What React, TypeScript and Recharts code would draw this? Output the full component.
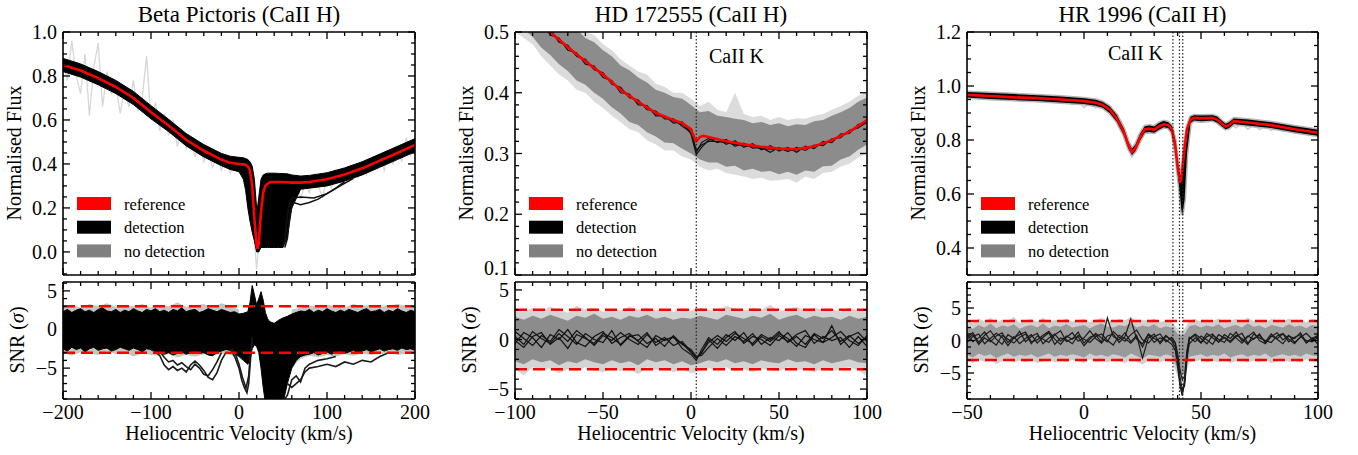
import React from 'react';
import { ComposedChart, Line, Area, XAxis, YAxis, ReferenceLine } from 'recharts';

const FONT = '"Liberation Serif", "Times New Roman", Times, serif';

// ================= Panel 1: Beta Pictoris =================
const p1RefVel = [-200,-180,-160,-140,-120,-100,-80,-60,-40,-20,-10,0,5,7.5,10,12.5,15,17.5,20,21,22.5,25,27.5,30,32.5,35,40,45,50,55,60,70,80,100,120,140,160,180,200];
const p1Ref = [0.850,0.825,0.79,0.75,0.70,0.635,0.575,0.51,0.46,0.42,0.405,0.40,0.398,0.395,0.39,0.37,0.30,0.15,0.03,0.015,0.04,0.18,0.27,0.30,0.31,0.317,0.318,0.318,0.318,0.317,0.315,0.315,0.318,0.33,0.352,0.38,0.415,0.45,0.487];
const p1DetHi = [0.88,0.855,0.82,0.78,0.73,0.665,0.603,0.538,0.488,0.448,0.435,0.43,0.428,0.425,0.42,0.41,0.39,0.33,0.2,0.2,0.25,0.33,0.35,0.355,0.358,0.358,0.358,0.357,0.356,0.355,0.35,0.345,0.348,0.36,0.382,0.41,0.445,0.48,0.515];
const p1DetLo = [0.82,0.795,0.76,0.72,0.67,0.605,0.547,0.482,0.432,0.392,0.375,0.365,0.33,0.28,0.2,0.14,0.09,0.05,0.0,0.0,0.0,0.02,0.02,0.02,0.02,0.02,0.02,0.02,0.02,0.07,0.2,0.285,0.29,0.3,0.322,0.35,0.385,0.42,0.455];
const p1GrayVel = [-200,-195,-190,-185,-180,-175,-170,-165,-160,-155,-150,-145,-140,-135,-130,-125,-120,-115,-110,-105,-100,-95,-90,-85,-80,-75,-70,-65,-60,-55,-50,-45,-40,-35,-30,-25,-20,-15,-10,-5,0,5,10,15,20,25,30,35,40,45,50,55,60,65,70,75,80,85,90,95,100,105,110,115,120,125,130,135,140,145,150,155,160,165,170,175,180,185,190,195,200];
const p1Gray = [0.86,0.78,0.96,0.80,0.72,0.90,0.62,0.84,0.95,0.66,0.82,0.72,0.76,0.63,0.74,0.66,0.78,0.64,0.70,0.89,0.60,0.68,0.55,0.63,0.53,0.60,0.48,0.56,0.47,0.52,0.43,0.50,0.41,0.47,0.38,0.45,0.37,0.43,0.36,0.41,0.36,0.40,0.33,0.20,-0.08,0.15,0.27,0.33,0.26,0.34,0.28,0.35,0.27,0.33,0.24,0.31,0.27,0.35,0.30,0.25,0.34,0.29,0.37,0.31,0.36,0.32,0.39,0.34,0.41,0.35,0.42,0.38,0.44,0.37,0.45,0.40,0.47,0.41,0.52,0.44,0.50];
const p1OutAVel = [52,55,58,62,70,80,90,100,110,120];
const p1OutA = [0.02,0.06,0.18,0.225,0.215,0.225,0.24,0.265,0.29,0.32];
const p1OutBVel = [48,52,56,60,70,85,100,115,130];
const p1OutB = [0.02,0.05,0.2,0.245,0.25,0.245,0.265,0.3,0.335];

const p1SnrVel = [-200,-195,-190,-185,-180,-175,-170,-165,-160,-155,-150,-145,-140,-135,-130,-125,-120,-115,-110,-105,-100,-95,-90,-85,-80,-75,-70,-65,-60,-55,-50,-45,-40,-35,-30,-25,-20,-15,-10,-5,0,5,10,12.5,15,17.5,20,22.5,25,27.5,30,32.5,35,40,45,50,55,60,65,70,75,80,85,90,95,100,105,110,115,120,125,130,135,140,145,150,155,160,165,170,175,180,185,190,195,200];
const p1SnrHi = [2.3,2.6,2.2,2.5,2.7,2.3,2.5,2.2,2.6,2.8,2.4,2.3,2.6,2.2,2.5,2.3,2.7,2.4,2.2,2.6,2.4,2.7,2.3,2.5,2.2,2.6,2.4,2.8,2.3,2.5,2.6,2.2,2.4,2.7,2.5,2.3,2.6,2.4,2.2,2.3,2.0,2.1,2.3,
  3.5,5.7,4.5,3.2,4.0,4.9,3.8,2.2,1.4,1.0,
  0.8,1.2,1.5,1.7,2.0,2.2,2.4,2.3,2.6,2.2,2.5,2.3,2.7,2.4,2.2,2.5,2.3,2.6,2.4,2.2,2.5,2.7,2.3,2.4,2.6,2.2,2.5,2.3,2.7,2.4,2.2,2.5,2.3];
const p1SnrLo = [-2.5,-2.8,-2.3,-2.6,-2.4,-2.9,-2.5,-2.3,-2.7,-2.5,-2.4,-2.8,-2.6,-2.3,-2.5,-2.7,-2.4,-2.6,-2.9,-2.5,-2.6,-2.8,-3.0,-3.2,-3.0,-3.3,-3.1,-2.9,-3.2,-3.0,-2.8,-3.1,-3.0,-3.3,-3.4,-3.0,-2.8,-2.6,-2.7,-3.0,-3.5,-4.0,-4.5,
  -4.0,-2.5,-2.0,-2.2,-3.0,-5.0,-7.5,-9.5,-9.5,-9.5,
  -9.5,-9.5,-9.5,-7.0,-5.0,-4.0,-3.5,-3.3,-3.2,-3.0,-3.3,-3.1,-2.9,-3.2,-3.0,-2.8,-3.1,-2.9,-2.7,-3.0,-2.8,-2.6,-2.9,-2.7,-2.5,-2.8,-2.6,-2.5,-2.7,-2.4,-2.6,-2.5,-2.7];
const p1GrayAVel = [-200,-190,-180,-170,-160,-150,-140,-130,-120,-110,-100,-90,-80,-70,-60,-50,-40,-30,-20,-10,0];
const p1GrayAHi = [2.9,3.2,2.8,3.3,3.0,3.4,2.9,3.1,3.0,3.3,2.8,3.2,3.0,3.5,2.9,3.1,3.3,2.8,3.4,3.0,2.6];
const p1GrayALo = [-3.0,-3.4,-2.9,-3.1,-3.3,-2.8,-3.2,-3.0,-3.5,-3.1,-3.3,-3.4,-3.2,-3.6,-3.3,-3.5,-3.2,-3.4,-3.1,-3.3,-3.6];
const p1GrayBVel = [60,70,80,90,100,110,120,130,140,150,160,170,180,190,200];
const p1GrayBHi = [2.6,2.8,3.1,2.9,3.2,3.0,2.8,3.3,3.0,3.2,2.9,3.1,3.3,3.0,2.9];
const p1GrayBLo = [-5.0,-3.8,-3.4,-3.6,-3.3,-3.5,-3.2,-3.4,-3.1,-3.3,-3.2,-3.0,-3.3,-3.1,-3.2];
const p1L1Vel = [-100,-95,-90,-85,-80,-75,-70,-65,-60,-55,-50,-45,-40,-35,-30,-25,-20,-15];
const p1L1 = [-2.6,-2.9,-3.4,-4.6,-5.2,-4.8,-5.3,-5.0,-5.5,-4.6,-4.1,-4.6,-5.3,-6.2,-6.5,-5.6,-4.0,-3.0];
const p1L2Vel = [-90,-85,-80,-75,-70,-65,-60,-55,-50,-45,-40,-35,-30,-25,-20];
const p1L2 = [-2.8,-3.6,-4.2,-4.0,-4.6,-4.3,-4.8,-5.2,-4.5,-5.0,-5.8,-6.0,-5.2,-4.2,-3.0];
const p1L3Vel = [-10,-5,0,3,6,9,11,13,15];
const p1L3 = [-2.5,-3.5,-5.0,-6.5,-7.5,-8.2,-7.0,-4.0,-1.0];
const p1L4Vel = [-8,-4,0,4,8,11,13];
const p1L4 = [-2.5,-3.2,-4.5,-6.2,-7.6,-6.0,-3.0];
const p1L5Vel = [55,60,65,70,75,80,90,100,110,120,130,140,150,160,170];
const p1L5 = [-7.0,-7.5,-7.0,-6.5,-5.5,-5.0,-4.8,-4.5,-4.8,-4.2,-4.5,-4.0,-4.2,-3.5,-3.0];
const p1L6Vel = [52,55,60,65,70,75,80,90,100,110];
const p1L6 = [-9.0,-8.5,-6.5,-6.0,-6.8,-5.0,-4.5,-4.0,-3.8,-3.5];

// ================= Panel 2: HD 172555 =================
const p2RefVel = [-100,-90,-80,-70,-60,-50,-40,-30,-20,-10,-5,0,2,3,5,7,10,20,30,40,50,60,70,80,90,100];
const p2Ref = [0.56,0.53,0.50,0.475,0.452,0.43,0.405,0.385,0.367,0.355,0.35,0.34,0.325,0.32,0.327,0.329,0.327,0.32,0.315,0.311,0.308,0.307,0.312,0.322,0.336,0.355];
const p2BandVel = [-100,-95,-90,-85,-80,-75,-70,-65,-60,-55,-50,-45,-40,-35,-30,-25,-20,-15,-10,-5,0,5,10,15,20,25,30,35,40,45,50,55,60,65,70,75,80,85,90,95,100];
const p2DarkHi = [0.60,0.588,0.568,0.558,0.538,0.53,0.513,0.505,0.49,0.483,0.47,0.46,0.445,0.437,0.425,0.417,0.405,0.40,0.393,0.39,0.38,0.368,0.37,0.362,0.36,0.357,0.355,0.35,0.352,0.347,0.35,0.345,0.348,0.347,0.353,0.355,0.362,0.368,0.375,0.385,0.392];
const p2DarkLo = [0.52,0.505,0.492,0.474,0.462,0.447,0.436,0.42,0.413,0.40,0.39,0.376,0.366,0.352,0.347,0.335,0.328,0.318,0.317,0.308,0.30,0.29,0.285,0.285,0.278,0.28,0.272,0.275,0.27,0.271,0.266,0.27,0.265,0.272,0.27,0.279,0.28,0.29,0.295,0.306,0.315];
const p2LightHi = [0.61,0.60,0.585,0.57,0.55,0.545,0.525,0.515,0.50,0.495,0.48,0.47,0.455,0.445,0.435,0.43,0.415,0.41,0.40,0.40,0.39,0.378,0.385,0.372,0.368,0.40,0.365,0.36,0.362,0.355,0.36,0.355,0.358,0.357,0.362,0.365,0.372,0.378,0.385,0.395,0.40];
const p2LightLo = [0.50,0.49,0.48,0.46,0.445,0.43,0.42,0.405,0.40,0.385,0.375,0.362,0.352,0.34,0.335,0.322,0.315,0.305,0.305,0.295,0.29,0.278,0.272,0.275,0.268,0.265,0.262,0.258,0.26,0.255,0.256,0.258,0.252,0.262,0.258,0.268,0.27,0.278,0.283,0.293,0.3];
const p2LineVel = [-100,-95,-90,-85,-80,-75,-70,-65,-60,-55,-50,-45,-40,-35,-30,-25,-20,-15,-10,-5,0,3,6,10,15,20,25,30,35,40,45,50,55,60,65,70,75,80,85,90,95,100];
const p2DetA = [0.565,0.54,0.535,0.51,0.505,0.483,0.478,0.46,0.455,0.438,0.433,0.414,0.409,0.392,0.388,0.372,0.37,0.357,0.357,0.345,0.335,0.302,0.318,0.325,0.318,0.323,0.312,0.317,0.309,0.31,0.302,0.31,0.303,0.31,0.305,0.314,0.313,0.324,0.326,0.338,0.342,0.352];
const p2DetB = [0.555,0.55,0.525,0.52,0.495,0.49,0.47,0.466,0.447,0.444,0.425,0.42,0.40,0.398,0.38,0.379,0.362,0.362,0.35,0.352,0.332,0.298,0.31,0.322,0.325,0.315,0.321,0.31,0.316,0.306,0.313,0.304,0.31,0.302,0.312,0.308,0.32,0.318,0.332,0.333,0.348,0.35];
const p2DetC = [0.56,0.548,0.53,0.513,0.503,0.485,0.476,0.461,0.452,0.44,0.43,0.418,0.404,0.396,0.383,0.377,0.365,0.36,0.353,0.348,0.338,0.305,0.314,0.32,0.32,0.318,0.315,0.313,0.312,0.308,0.307,0.307,0.306,0.306,0.309,0.311,0.316,0.321,0.329,0.335,0.344,0.354];
const p2SnrDarkHi = [2.3,2.0,2.4,2.1,2.5,2.2,1.9,2.4,2.2,2.6,2.1,2.3,2.0,2.4,2.2,2.5,2.1,2.3,2.0,2.2,2.1,2.4,2.2,2.0,2.5,2.3,2.1,2.4,2.2,2.6,2.0,2.3,2.5,2.1,2.4,2.2,2.3,2.0,2.4,2.1,2.3];
const p2SnrDarkLo = [-2.2,-2.5,-2.0,-2.3,-2.1,-2.6,-2.2,-2.4,-2.0,-2.3,-2.5,-2.1,-2.4,-2.2,-2.6,-2.0,-2.3,-2.1,-2.5,-2.2,-2.6,-2.4,-2.1,-2.3,-2.0,-2.4,-2.2,-2.5,-2.1,-2.3,-2.4,-2.0,-2.3,-2.2,-2.5,-2.1,-2.4,-2.2,-2.0,-2.3,-2.4];
const p2SnrLightHi = [3.0,2.8,3.2,2.9,3.3,3.0,2.7,3.4,3.0,3.2,2.8,3.1,2.9,3.3,3.0,3.2,2.9,3.1,2.8,3.0,2.9,3.2,3.0,2.8,3.4,3.1,2.9,3.2,3.0,3.5,2.8,3.1,3.3,2.9,3.2,3.0,3.1,2.8,3.2,2.9,3.1];
const p2SnrLightLo = [-3.0,-3.6,-2.8,-3.1,-2.9,-3.4,-3.0,-3.2,-2.8,-3.1,-3.3,-2.9,-3.2,-3.0,-3.5,-2.8,-3.1,-2.9,-3.3,-3.0,-3.4,-3.2,-2.9,-3.1,-2.8,-3.2,-3.0,-3.3,-2.9,-3.1,-3.2,-2.8,-3.1,-3.0,-3.3,-2.9,-3.2,-3.0,-2.8,-3.1,-3.7];
const p2SnrA = [0.3,-0.5,0.8,0.1,-0.4,0.6,-0.2,0.9,0.2,-0.6,0.4,-0.1,0.7,0.0,-0.5,0.5,-0.3,0.2,-0.6,-0.2,-1.2,-1.9,-1.3,-0.3,0.4,-0.2,0.6,0.1,-0.4,0.5,0.0,0.8,-0.3,0.3,-0.5,0.6,0.1,0.9,-0.2,0.4,-0.4,0.2];
const p2SnrB = [-0.4,0.7,0.2,-0.8,0.5,0.0,1.0,-0.3,-0.7,0.3,0.8,-0.4,0.2,0.6,-0.2,-0.8,0.4,-0.1,0.3,-0.9,-1.5,-2.1,-1.0,0.2,-0.5,0.5,-0.1,0.7,-0.6,0.3,-0.2,0.6,0.1,-0.7,0.4,0.0,-0.3,1.4,-0.5,0.3,0.7,-0.2];
const p2SnrC = [0.8,0.1,-0.6,0.4,-0.2,1.0,0.3,-0.5,0.6,0.0,-0.3,0.9,-0.6,0.3,0.5,-0.4,0.1,-0.7,0.4,-0.5,-1.0,-1.7,-1.6,-0.8,0.1,-0.6,0.3,-0.2,0.6,-0.5,0.2,-0.1,0.7,-0.4,-0.8,0.5,-0.3,0.2,0.8,-0.1,-0.6,0.4];
const p2SnrD = [-0.1,-0.8,0.3,0.7,-0.5,0.2,-0.9,0.5,0.1,-0.4,0.6,0.2,-0.5,0.4,-0.1,0.7,-0.6,0.0,0.2,-0.4,-1.3,-1.8,-1.4,0.0,-0.9,0.2,0.8,-0.4,0.3,0.0,-0.6,0.4,-0.2,0.5,0.9,-0.4,0.3,-0.1,0.2,-0.8,0.3,-0.7];
const p2Marker = [3];

// ================= Panel 3: HR 1996 =================
const p3RefVel = [-50,-40,-30,-20,-10,0,5,8,11,14,17,19,20.5,22,24,26,28,30,32,34,36,37.5,39,40,41,41.5,42,43,44,45.5,47,50,55,57,59,60.5,62,64,70,80,90,100];
const p3Ref = [0.967,0.963,0.958,0.955,0.950,0.944,0.938,0.93,0.912,0.88,0.83,0.78,0.755,0.77,0.81,0.84,0.842,0.838,0.85,0.858,0.855,0.84,0.78,0.70,0.645,0.65,0.69,0.77,0.84,0.875,0.882,0.88,0.882,0.875,0.86,0.85,0.855,0.87,0.865,0.855,0.84,0.827];
const p3DetHi = [0.978,0.974,0.97,0.966,0.961,0.955,0.949,0.941,0.924,0.893,0.843,0.793,0.768,0.783,0.823,0.851,0.854,0.85,0.863,0.87,0.866,0.853,0.8,0.72,0.665,0.675,0.71,0.79,0.85,0.886,0.892,0.891,0.892,0.886,0.87,0.86,0.866,0.88,0.876,0.866,0.851,0.838];
const p3DetLo = [0.957,0.952,0.948,0.944,0.939,0.933,0.927,0.919,0.9,0.868,0.818,0.768,0.744,0.759,0.798,0.828,0.83,0.827,0.838,0.847,0.844,0.828,0.76,0.68,0.6,0.55,0.522,0.58,0.75,0.862,0.872,0.869,0.872,0.864,0.85,0.84,0.844,0.859,0.854,0.844,0.829,0.816];
const p3GrayAVel = [-50,-47.5,-45,-42.5,-40,-37.5,-35,-32.5,-30,-27.5,-25,-22.5,-20,-17.5,-15,-12.5,-10,-7.5,-5,-2.5,0,2.5,5,7.5,10];
const p3GrayA = [0.96,0.975,0.95,0.978,0.955,0.972,0.95,0.975,0.945,0.97,0.952,0.968,0.94,0.965,0.945,0.96,0.94,0.955,0.93,0.945,0.92,0.935,0.918,0.93,0.915];
const p3GrayBVel = [57.5,60,62.5,65,67.5,70,72.5,75,77.5,80,82.5,85,87.5,90,92.5,95,97.5,100];
const p3GrayB = [0.87,0.845,0.86,0.845,0.862,0.84,0.858,0.838,0.855,0.835,0.85,0.83,0.845,0.825,0.84,0.82,0.835,0.818];
const p3SnrVel = [-50,-47.5,-45,-42.5,-40,-37.5,-35,-32.5,-30,-27.5,-25,-22.5,-20,-17.5,-15,-12.5,-10,-7.5,-5,-2.5,0,2.5,5,7.5,10,12.5,15,17.5,20,22.5,25,27.5,30,32.5,35,37.5,39,40,41,42,43,44,45,47.5,50,52.5,55,57.5,60,62.5,65,67.5,70,72.5,75,77.5,80,82.5,85,87.5,90,92.5,95,97.5,100];
const p3SnrDarkHi = [2.2,1.8,2.4,2.0,2.6,1.9,2.3,2.1,2.5,1.8,2.2,2.4,2.0,2.6,1.9,2.3,2.1,2.5,2.0,2.2,2.4,1.9,2.3,2.6,2.1,2.0,2.4,2.2,2.7,2.0,2.3,2.1,2.5,1.9,2.2,2.0,1.5,1.0,0.8,0.8,1.0,1.6,2.2,2.4,2.0,2.3,2.1,2.5,1.9,2.2,2.4,2.0,2.6,2.1,2.3,1.9,2.4,2.2,2.0,2.5,2.1,2.3,1.9,2.4,2.2];
const p3SnrDarkLo = [-2.2,-2.6,-2.0,-2.4,-2.1,-2.7,-2.3,-2.0,-2.5,-2.2,-2.4,-2.1,-2.6,-2.3,-2.0,-2.5,-2.2,-2.4,-2.1,-2.3,-2.6,-2.0,-2.4,-2.2,-2.5,-2.1,-2.3,-2.6,-2.0,-2.4,-2.8,-2.2,-2.3,-2.5,-2.1,-2.4,-3.5,-4.5,-5.0,-5.2,-5.0,-3.5,-2.5,-2.3,-2.1,-2.5,-2.2,-2.4,-2.0,-2.6,-2.3,-2.1,-2.5,-2.2,-2.4,-2.0,-2.6,-2.3,-2.1,-2.4,-2.2,-2.5,-2.0,-2.3,-2.4];
const p3SnrLightHi = [3.0,2.7,3.4,2.9,3.5,2.8,3.2,3.0,3.6,2.7,3.1,3.3,2.9,3.5,2.8,3.2,3.0,3.4,2.9,3.1,3.3,2.8,3.2,3.5,3.0,2.9,3.3,3.1,3.6,2.9,3.2,3.0,3.4,2.8,3.1,2.9,2.2,1.8,1.5,1.5,1.8,2.4,3.0,3.3,2.9,3.2,3.0,3.4,2.8,3.1,3.3,2.9,3.5,3.0,3.2,2.8,3.3,3.1,2.9,3.4,3.0,3.2,2.8,3.3,3.1];
const p3SnrLightLo = [-3.1,-3.5,-2.9,-3.3,-3.0,-3.6,-3.2,-2.9,-3.4,-3.1,-3.3,-3.0,-3.5,-3.2,-2.9,-3.4,-3.1,-3.3,-3.0,-3.2,-3.5,-2.9,-3.3,-3.1,-3.4,-3.0,-3.2,-3.5,-2.9,-3.3,-3.7,-3.1,-3.2,-3.4,-3.0,-3.3,-4.5,-5.5,-6.0,-6.2,-6.0,-4.5,-3.4,-3.2,-3.0,-3.4,-3.1,-3.3,-2.9,-3.5,-3.2,-3.0,-3.4,-3.1,-3.3,-2.9,-3.5,-3.2,-3.0,-3.3,-3.1,-3.4,-2.9,-3.2,-3.3];
const p3SnrA = [0.5,1.2,-0.3,0.8,1.5,0.2,-0.6,0.9,0.3,1.4,-0.2,0.6,1.1,-0.5,0.4,1.0,-0.1,0.7,0.2,1.3,-0.4,0.5,0.9,-0.3,3.5,0.6,0.1,1.2,-0.2,0.8,-2.7,0.4,1.0,-0.5,0.6,0.2,-0.5,-2.5,-5.5,-7.5,-7.0,-3.0,0.2,0.8,-0.3,1.1,0.4,-0.2,0.9,0.3,1.3,-0.1,0.7,0.2,1.0,-0.4,0.6,1.2,0.1,0.8,-0.3,0.5,1.1,0.2,0.6];
const p3SnrB = [-0.3,0.6,1.0,-0.5,0.3,1.1,0.5,-0.8,0.4,0.9,1.3,-0.2,0.1,0.8,1.4,0.2,-0.6,0.5,1.2,-0.1,0.4,1.5,0.3,-0.4,0.7,1.0,-0.3,0.6,3.3,0.2,-0.5,1.0,0.3,-0.2,0.8,-0.1,-1.0,-3.5,-6.5,-8.0,-6.0,-2.0,0.5,-0.2,0.7,0.1,-0.6,0.9,0.4,-0.3,0.6,1.1,-0.4,0.3,0.8,-0.2,1.0,0.2,-0.5,0.7,0.3,1.2,-0.3,0.4,-0.6];
const p3SnrC = [1.0,-0.2,0.4,1.3,0.0,-0.7,0.8,0.2,-0.4,0.5,1.0,-0.5,0.7,0.2,-0.3,0.9,1.5,-0.2,0.3,0.6,-0.8,0.2,1.1,0.4,-0.2,1.4,0.5,-0.1,0.9,1.6,0.1,-0.4,0.6,1.0,-0.2,0.5,-0.3,-2.0,-4.5,-6.0,-5.5,-1.5,0.3,1.0,0.3,-0.5,0.8,0.2,-0.3,1.1,0.4,-0.4,0.6,1.3,0.0,-0.5,0.7,0.3,1.0,-0.2,0.5,0.9,-0.4,0.3,0.8];
const p3SnrD = [0.2,0.9,-0.6,0.4,-0.2,0.7,1.2,-0.3,0.6,-0.5,0.3,0.9,-0.4,0.5,1.2,-0.6,0.4,0.1,-0.5,0.8,0.2,-0.3,0.6,1.0,0.0,-0.7,0.8,0.3,-0.4,0.6,-1.0,0.9,-0.3,0.4,0.1,-0.6,-1.5,-4.0,-7.0,-8.5,-6.5,-2.5,-0.5,0.4,-0.4,0.6,1.0,-0.3,0.5,-0.1,0.8,0.3,-0.6,1.0,0.4,0.0,-0.3,0.7,1.1,0.2,-0.5,0.6,0.0,-0.2,0.5];
const p3Markers = [38, 40.8, 42.2];

const snrLimits = [3, -3];

// ================= helpers =================
const pts = (vel: number[], val: number[]) => vel.map((v, i) => ({ v, y: val[i] }));
const band = (vel: number[], lo: number[], hi: number[]) => vel.map((v, i) => ({ v, r: [lo[i], hi[i]] }));
const tickRange = (a: number, b: number, d: number) => {
  const out: number[] = [];
  const n = Math.round((b - a) / d);
  for (let i = 0; i <= n; i++) out.push(+(a + i * d).toFixed(4));
  return out;
};
const fmt = (v: number, dec: number) => (v < -1e-9 ? '\u2212' : '') + Math.abs(v).toFixed(dec);

function makeTick(side: string, majors: number[], dec: number, label: boolean, lift: number | null) {
  return (props: any) => {
    const x = Number(props.x);
    const y = Number(props.y);
    const v = Number(props.payload ? props.payload.value : 0);
    const major = majors.some((m) => Math.abs(m - v) < 1e-6);
    const len = major ? 7 : 4;
    let x2 = x;
    let y2 = y;
    if (side === 'bottom') y2 = y - len;
    if (side === 'top') y2 = y + len;
    if (side === 'left') x2 = x + len;
    if (side === 'right') x2 = x - len;
    const dy = lift != null && Math.abs(v - lift) < 1e-6 ? -7 : 0;
    return (
      <g>
        <line x1={x} y1={y} x2={x2} y2={y2} stroke="#000" strokeWidth={1.3} />
        {label && major && side === 'bottom' ? (
          <text x={x} y={y + 20} textAnchor="middle" fontFamily={FONT} fontSize={20} fill="#000">{fmt(v, dec)}</text>
        ) : null}
        {label && major && side === 'left' ? (
          <text x={x - 6} y={y + 7 + dy} textAnchor="end" fontFamily={FONT} fontSize={20} fill="#000">{fmt(v, dec)}</text>
        ) : null}
      </g>
    );
  };
}

const AX = { stroke: '#000', strokeWidth: 1.6 };
const IDS = { xAxisId: 'b', yAxisId: 'l' };

function axes(xDom: number[], xTicks: number[], xMaj: number[], yDom: number[], yTicks: number[], yMaj: number[], yDec: number, xLabels: boolean, lift: number | null) {
  return [
    <XAxis key="xb" xAxisId="b" orientation="bottom" type="number" dataKey="v" domain={xDom} allowDataOverflow ticks={xTicks} interval={0} height={1} tickSize={0} tickMargin={0} tickLine={false} axisLine={AX} tick={makeTick('bottom', xMaj, 0, xLabels, null)} />,
    <XAxis key="xt" xAxisId="t" orientation="top" type="number" dataKey="v" domain={xDom} allowDataOverflow ticks={xTicks} interval={0} height={1} tickSize={0} tickMargin={0} tickLine={false} axisLine={AX} tick={makeTick('top', xMaj, 0, false, null)} />,
    <YAxis key="yl" yAxisId="l" orientation="left" type="number" domain={yDom} allowDataOverflow ticks={yTicks} interval={0} width={60} tickSize={0} tickMargin={0} tickLine={false} axisLine={AX} tick={makeTick('left', yMaj, yDec, true, lift)} />,
    <YAxis key="yr" yAxisId="r" orientation="right" type="number" domain={yDom} allowDataOverflow ticks={yTicks} interval={0} width={1} tickSize={0} tickMargin={0} tickLine={false} axisLine={AX} tick={makeTick('right', yMaj, yDec, false, null)} />,
  ];
}

function ln(key: string, data: any[], stroke: string, w: number, z: number) {
  return <Line key={key} {...IDS} data={data} dataKey="y" type="linear" stroke={stroke} strokeWidth={w} dot={false} activeDot={false} isAnimationActive={false} legendType="none" zIndex={z} />;
}
function ar(key: string, data: any[], fill: string, z: number, stroke = 'none', sw = 0) {
  return <Area key={key} {...IDS} data={data} dataKey="r" type="linear" fill={fill} fillOpacity={1} stroke={stroke} strokeWidth={sw} dot={false} activeDot={false} isAnimationActive={false} legendType="none" zIndex={z} />;
}
function dashed(y: number) {
  return <ReferenceLine key={'dash' + y} {...IDS} y={y} stroke="#ff0000" strokeWidth={2.5} strokeDasharray="12 6" zIndex={130} />;
}
function dotted(x: number) {
  return <ReferenceLine key={'dot' + x} {...IDS} x={x} stroke="#222" strokeWidth={1.2} strokeDasharray="1.5 2" zIndex={130} />;
}

type Cfg = {
  L: number; R: number; xDom: number[]; xTicks: number[]; xMaj: number[];
  topDom: number[]; topTicks: number[]; topMaj: number[]; topDec: number; lift: number | null;
  snrDom: number[]; snrTicks: number[]; snrMaj: number[];
};

const P1: Cfg = {
  L: 63, R: 415, xDom: [-200, 200], xTicks: tickRange(-200, 200, 20), xMaj: [-200, -100, 0, 100, 200],
  topDom: [-0.105, 1.0], topTicks: tickRange(-0.1, 1.0, 0.05), topMaj: [0, 0.2, 0.4, 0.6, 0.8, 1.0], topDec: 1, lift: null,
  snrDom: [-9, 6.15], snrTicks: tickRange(-9, 6, 1), snrMaj: [-5, 0, 5],
};
const P2: Cfg = {
  L: 515, R: 867, xDom: [-100, 100], xTicks: tickRange(-100, 100, 10), xMaj: [-100, -50, 0, 50, 100],
  topDom: [0.1, 0.5], topTicks: tickRange(0.1, 0.5, 0.02), topMaj: [0.1, 0.2, 0.3, 0.4, 0.5], topDec: 1, lift: 0.1,
  snrDom: [-6, 5.8], snrTicks: tickRange(-6, 5, 1), snrMaj: [-5, 0, 5],
};
const P3: Cfg = {
  L: 967, R: 1318, xDom: [-50, 100], xTicks: tickRange(-50, 100, 10), xMaj: [-50, 0, 50, 100],
  topDom: [0.3, 1.2], topTicks: tickRange(0.3, 1.2, 0.05), topMaj: [0.4, 0.6, 0.8, 1.0, 1.2], topDec: 1, lift: null,
  snrDom: [-9, 9], snrTicks: tickRange(-9, 9, 1), snrMaj: [-5, 0, 5],
};

const RIGHT_PAD = 34;

function Panel({ cfg, top, snr }: { cfg: Cfg; top: any[]; snr: any[] }) {
  const w = cfg.R - cfg.L + 60 + RIGHT_PAD;
  return (
    <>
      <div style={{ position: 'absolute', left: cfg.L - 60, top: 0 }}>
        <ComposedChart width={w} height={280} margin={{ top: 31, right: RIGHT_PAD - 1, bottom: 4, left: 0 }}>
          {axes(cfg.xDom, cfg.xTicks, cfg.xMaj, cfg.topDom, cfg.topTicks, cfg.topMaj, cfg.topDec, false, cfg.lift)}
          {top}
        </ComposedChart>
      </div>
      <div style={{ position: 'absolute', left: cfg.L - 60, top: 272 }}>
        <ComposedChart width={w} height={183} margin={{ top: 9, right: RIGHT_PAD - 1, bottom: 55, left: 0 }}>
          {axes(cfg.xDom, cfg.xTicks, cfg.xMaj, cfg.snrDom, cfg.snrTicks, cfg.snrMaj, 0, true, null)}
          {snr}
        </ComposedChart>
      </div>
    </>
  );
}

const titles = ['Beta Pictoris (CaII H)', 'HD 172555 (CaII H)', 'HR 1996 (CaII H)'];
const legendLabels = ['reference', 'detection', 'no detection'];
const legendColors = ['#ff0000', '#000000', '#808080'];

function Overlay() {
  const panels = [P1, P2, P3];
  return (
    <svg width={1358} height={455} style={{ position: 'absolute', left: 0, top: 0, pointerEvents: 'none' }}>
      {panels.map((p, i) => {
        const cx = (p.L + p.R) / 2;
        return (
          <g key={i} fontFamily={FONT} fill="#000">
            <text x={cx} y={22} textAnchor="middle" fontSize={23}>{titles[i]}</text>
            <text x={p.L - 49} y={153} textAnchor="middle" dominantBaseline="central" fontSize={20} transform={`rotate(-90 ${p.L - 49} 153)`}>Normalised Flux</text>
            <text x={p.L - 46} y={340} textAnchor="middle" dominantBaseline="central" fontSize={20} transform={`rotate(-90 ${p.L - 46} 340)`}>
              SNR (<tspan fontStyle="italic">σ</tspan>)
            </text>
            <text x={cx} y={440} textAnchor="middle" fontSize={20}>Heliocentric Velocity (km/s)</text>
            {legendLabels.map((lab, j) => (
              <g key={lab}>
                <rect x={p.L + 14} y={197 + j * 23.7} width={34} height={13} fill={legendColors[j]} />
                <text x={p.L + 61} y={209.5 + j * 23.7} fontSize={16.5}>{lab}</text>
              </g>
            ))}
          </g>
        );
      })}
      <text x={709} y={63} fontFamily={FONT} fontSize={20}>CaII K</text>
      <text x={1108} y={60} fontFamily={FONT} fontSize={20}>CaII K</text>
    </svg>
  );
}

export default function App() {
  const p1Top = [
    ln('gray', pts(p1GrayVel, p1Gray), '#d6d6d6', 1.3, 101),
    ar('det', band(p1RefVel, p1DetLo, p1DetHi), '#000', 102, '#000', 1),
    ln('outA', pts(p1OutAVel, p1OutA), '#111', 1.5, 103),
    ln('outB', pts(p1OutBVel, p1OutB), '#111', 1.5, 103),
    ln('ref', pts(p1RefVel, p1Ref), '#ff0000', 2.6, 110),
  ];
  const p1Snr = [
    ar('ga', band(p1GrayAVel, p1GrayALo, p1GrayAHi), '#c4c4c4', 101),
    ar('gb', band(p1GrayBVel, p1GrayBLo, p1GrayBHi), '#c4c4c4', 101),
    ar('det', band(p1SnrVel, p1SnrLo, p1SnrHi), '#000', 102, '#000', 1),
    ln('l1', pts(p1L1Vel, p1L1), '#1a1a1a', 1.6, 103),
    ln('l2', pts(p1L2Vel, p1L2), '#1a1a1a', 1.6, 103),
    ln('l3', pts(p1L3Vel, p1L3), '#1a1a1a', 1.6, 103),
    ln('l4', pts(p1L4Vel, p1L4), '#1a1a1a', 1.6, 103),
    ln('l5', pts(p1L5Vel, p1L5), '#1a1a1a', 1.6, 103),
    ln('l6', pts(p1L6Vel, p1L6), '#1a1a1a', 1.6, 103),
    ...snrLimits.map(dashed),
  ];
  const p2Top = [
    ar('light', band(p2BandVel, p2LightLo, p2LightHi), '#dcdcdc', 101),
    ar('dark', band(p2BandVel, p2DarkLo, p2DarkHi), '#8c8c8c', 102),
    ln('a', pts(p2LineVel, p2DetA), '#111', 1.2, 103),
    ln('b', pts(p2LineVel, p2DetB), '#111', 1.2, 103),
    ln('c', pts(p2LineVel, p2DetC), '#111', 1.2, 103),
    ln('ref', pts(p2RefVel, p2Ref), '#ff0000', 2.6, 110),
    ...p2Marker.map(dotted),
  ];
  const p2Snr = [
    ar('light', band(p2BandVel, p2SnrLightLo, p2SnrLightHi), '#d4d4d4', 101),
    ar('dark', band(p2BandVel, p2SnrDarkLo, p2SnrDarkHi), '#8c8c8c', 102),
    ln('a', pts(p2LineVel, p2SnrA), '#111', 1.2, 103),
    ln('b', pts(p2LineVel, p2SnrB), '#111', 1.2, 103),
    ln('c', pts(p2LineVel, p2SnrC), '#111', 1.2, 103),
    ln('d', pts(p2LineVel, p2SnrD), '#111', 1.2, 103),
    ...snrLimits.map(dashed),
    ...p2Marker.map(dotted),
  ];
  const p3Top = [
    ln('ga', pts(p3GrayAVel, p3GrayA), '#cccccc', 1.4, 101),
    ln('gb', pts(p3GrayBVel, p3GrayB), '#cccccc', 1.4, 101),
    ar('halo', band(p3RefVel, p3DetLo, p3DetHi), '#b5b5b5', 102, '#b5b5b5', 3),
    ar('det', band(p3RefVel, p3DetLo, p3DetHi), '#000', 103),
    ln('ref', pts(p3RefVel, p3Ref), '#ff0000', 2.6, 110),
    ...p3Markers.map(dotted),
  ];
  const p3Snr = [
    ar('light', band(p3SnrVel, p3SnrLightLo, p3SnrLightHi), '#d0d0d0', 101),
    ar('dark', band(p3SnrVel, p3SnrDarkLo, p3SnrDarkHi), '#9a9a9a', 102),
    ln('a', pts(p3SnrVel, p3SnrA), '#1a1a1a', 1.2, 103),
    ln('b', pts(p3SnrVel, p3SnrB), '#1a1a1a', 1.2, 103),
    ln('c', pts(p3SnrVel, p3SnrC), '#1a1a1a', 1.2, 103),
    ln('d', pts(p3SnrVel, p3SnrD), '#1a1a1a', 1.2, 103),
    ...snrLimits.map(dashed),
    ...p3Markers.map(dotted),
  ];
  return (
    <div style={{ position: 'absolute', left: 0, top: 0, width: 1358, height: 455, background: '#fff', overflow: 'hidden' }}>
      <Panel cfg={P1} top={p1Top} snr={p1Snr} />
      <Panel cfg={P2} top={p2Top} snr={p2Snr} />
      <Panel cfg={P3} top={p3Top} snr={p3Snr} />
      <Overlay />
    </div>
  );
}
